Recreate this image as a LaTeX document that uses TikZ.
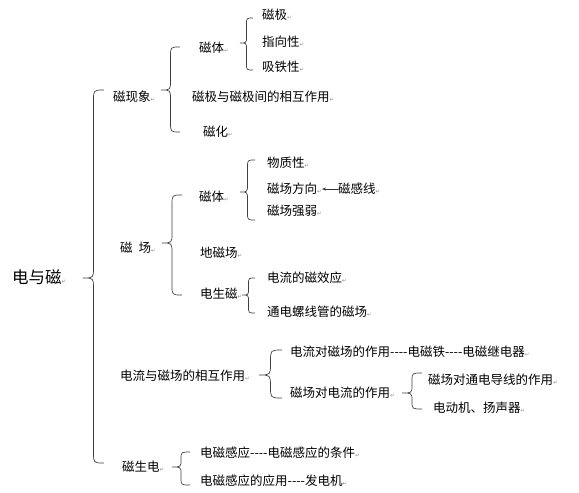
\documentclass[tikz,border=0pt]{standalone}
\usepackage{fontspec}
\setmainfont{Noto Sans CJK SC}[Ligatures=ResetAll]
\newfontfamily\symf{DejaVu Sans}
\usetikzlibrary{arrows.meta}
\newcommand\retm{{\symf\fontsize{5.5}{6}\selectfont\color{black!45}↵}}
\newcommand\dsh{-{}-{}-{}-}
\tikzset{
  txt/.style={anchor=west, inner sep=0pt, font=\fontsize{12.5}{13}\selectfont},
  bigtxt/.style={anchor=west, inner sep=0pt, font=\fontsize{16.5}{17}\selectfont},
  bracestyle/.style={draw=black!75, line width=0.7pt},
}
% xl xr top tip bottom
\newcommand\mybrace[5]{%
  \pgfmathsetmacro\bkxm{(#1+#2)/2}%
  \pgfmathsetmacro\bkr{min((#2-#1)/2,(#4-#3)/2,(#5-#4)/2)}%
  \draw[bracestyle] (#2,#3) .. controls (\bkxm,#3) .. (\bkxm,{#3+\bkr})
    -- (\bkxm,{#4-\bkr}) .. controls (\bkxm,#4) .. (#1,#4)
    .. controls (\bkxm,#4) .. (\bkxm,{#4+\bkr})
    -- (\bkxm,{#5-\bkr}) .. controls (\bkxm,#5) .. (#2,#5);}
\begin{document}
\begin{tikzpicture}[x=1pt,y=-1pt]
\useasboundingbox[fill=white] (0,0) rectangle (579,493);
\node[bigtxt] (root) at (12,277) {电与磁\retm};
\node[txt] (a) at (113,97) {磁现象\retm};
\node[txt] (a1) at (199,48) {磁体\retm};
\node[txt] (a11) at (262,15) {磁极\retm};
\node[txt] (a12) at (262,42) {指向性\retm};
\node[txt] (a13) at (262,67) {吸铁性\retm};
\node[txt] (a2) at (192,97) {磁极与磁极间的相互作用\retm};
\node[txt] (a3) at (203,132) {磁化\retm};
\node[txt] (b) at (120,248) {磁\hspace{6pt}场\retm};
\node[txt] (b1) at (199,197) {磁体\retm};
\node[txt] (b11) at (267,163) {物质性\retm};
\node[txt] (b12) at (267,189) {磁场方向\retm};
\node[txt] (b12a) at (338,189) {磁感线\retm};
\node[txt] (b13) at (267,211) {磁场强弱\retm};
\node[txt] (b2) at (200,253) {地磁场\retm};
\node[txt] (b3) at (200,294) {电生磁\retm};
\node[txt] (b31) at (267,278) {电流的磁效应\retm};
\node[txt] (b32) at (267,312) {通电螺线管的磁场\retm};
\node[txt] (c) at (120,376) {电流与磁场的相互作用\retm};
\node[txt] (c1) at (290,352) {电流对磁场的作用\dsh 电磁铁\dsh 电磁继电器\retm};
\node[txt] (c2) at (290,393) {磁场对电流的作用\retm};
\node[txt] (c21) at (428,380) {磁场对通电导线的作用\retm};
\node[txt] (c22) at (433,408) {电动机、扬声器\retm};
\node[txt] (d) at (122,467) {磁生电\retm};
\node[txt] (d1) at (200,453) {电磁感应\dsh 电磁感应的条件\retm};
\node[txt] (d2) at (200,481) {电磁感应的应用\dsh 发电机\retm};
\draw[-{Stealth[length=4pt,width=3pt]}, line width=0.6pt, black!80] (b12a.west) -- (b12.east);
\mybrace{83}{104}{90}{278}{463}
\mybrace{161}{180}{47}{90}{132}
\mybrace{240}{253}{18}{43}{70}
\mybrace{162}{182}{195}{243}{295}
\mybrace{240}{255}{160}{192}{220}
\mybrace{242}{255}{278}{295}{313}
\mybrace{259}{282}{350}{375}{398}
\mybrace{402}{422}{373}{393}{409}
\mybrace{172}{190}{452}{467}{485}
\end{tikzpicture}
\end{document}
